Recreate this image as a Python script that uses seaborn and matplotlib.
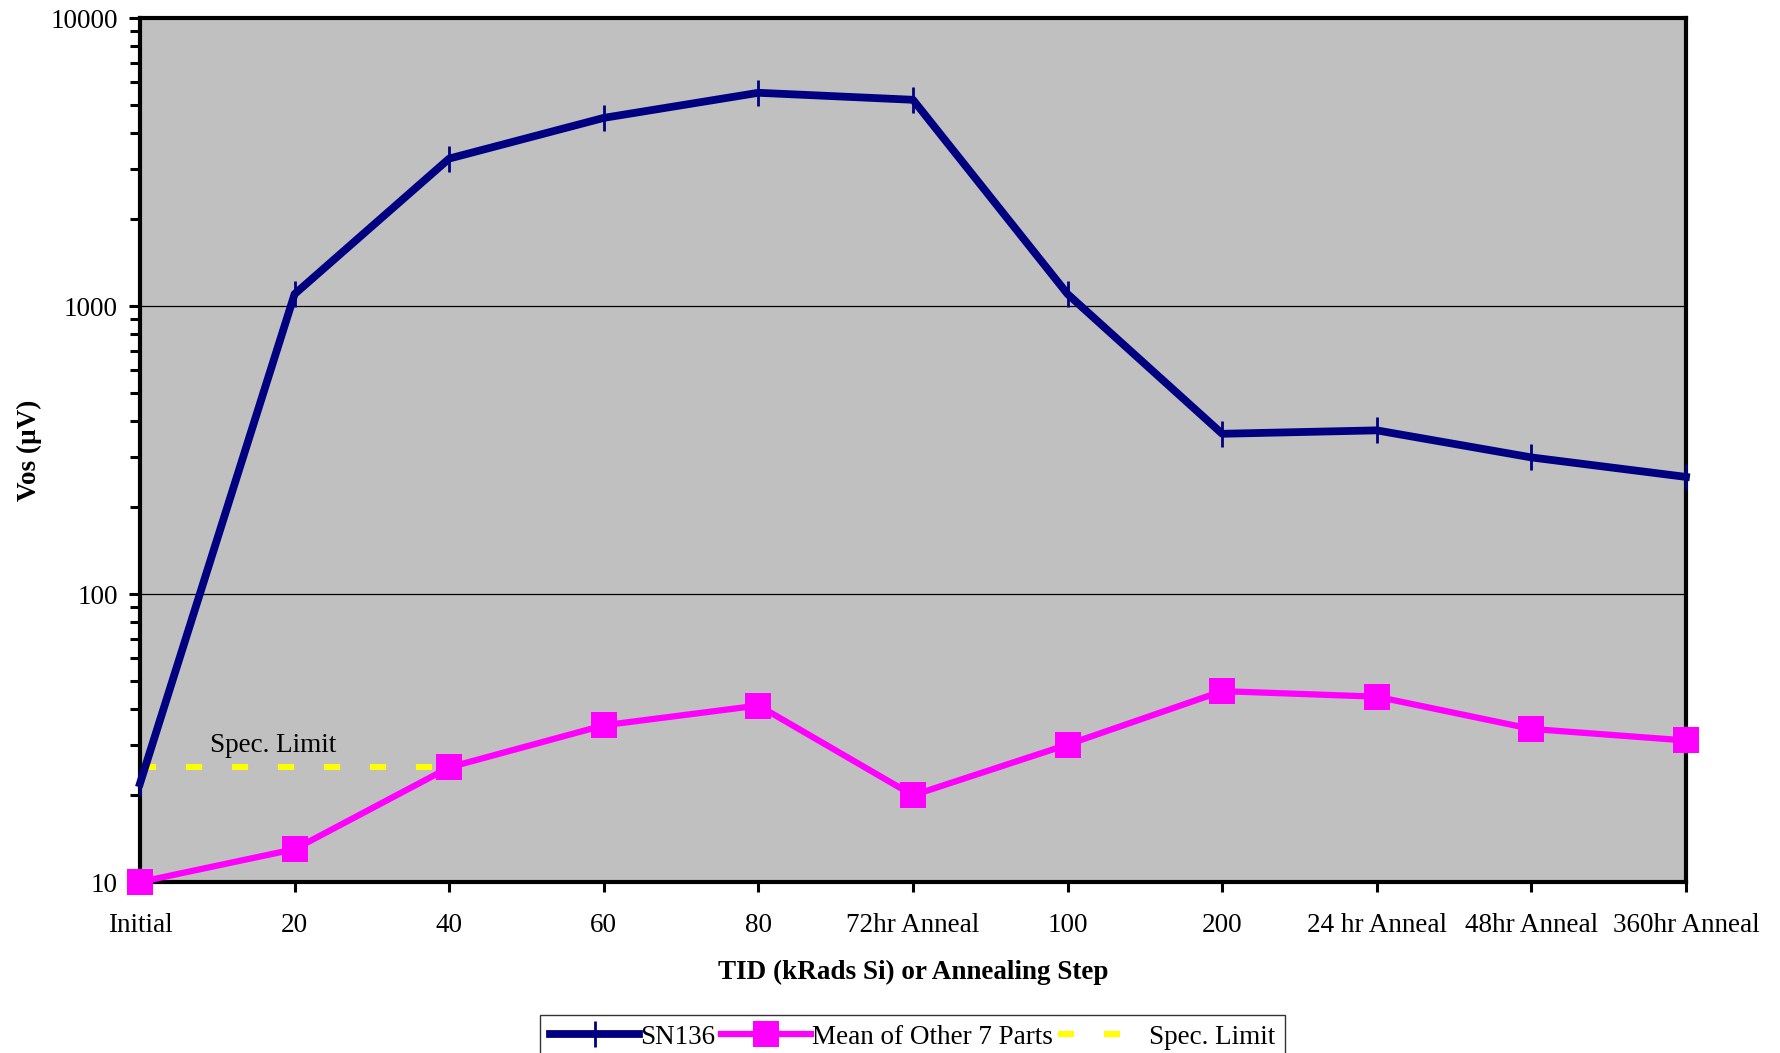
import matplotlib
matplotlib.use("Agg")
import matplotlib.pyplot as plt
import seaborn as sns
import pandas as pd
import numpy as np
from matplotlib.ticker import LogLocator, NullFormatter, FixedLocator

# Test steps (total ionizing dose or anneal step)
steps = ["Initial", "20", "40", "60", "80", "72hr Anneal", "100", "200",
         "24 hr Anneal", "48hr Anneal", "360hr Anneal"]
# Offset voltage in microvolts
sn136 = [22, 1100, 3250, 4500, 5500, 5200, 1100, 360, 370, 298, 255]
mean_other7 = [10, 13, 25, 35, 41, 20, 30, 46, 44, 34, 31]
spec_limit_steps = ["Initial", "20", "40"]
spec_limit = [25, 25, 25]

plt.rcParams["font.family"] = ["Liberation Serif", "DejaVu Serif"]

FS = 19.5

pos = {s: i for i, s in enumerate(steps)}
df = pd.DataFrame({"pos": list(range(len(steps))), "sn136": sn136, "mean": mean_other7})
spec_df = pd.DataFrame({"pos": [pos[s] for s in spec_limit_steps], "spec": spec_limit})

fig = plt.figure(figsize=(17.8, 10.53), dpi=100)
ax = fig.add_axes([140 / 1780, 1 - 882 / 1053, (1686 - 140) / 1780, (882 - 18) / 1053])
ax.set_facecolor("#C0C0C0")

sns.lineplot(data=spec_df, x="pos", y="spec", ax=ax, color="#FFFF00", linewidth=4.3,
             label="Spec. Limit", zorder=2)
spec_line = ax.lines[-1]
spec_line.set_dashes((2.7, 5.0))
spec_line.set_dash_capstyle("butt")

sns.lineplot(data=df, x="pos", y="sn136", ax=ax, color="#000080", linewidth=5.6,
             marker="|", markersize=19, markeredgewidth=2, markeredgecolor="#000080",
             label="SN136", zorder=4, clip_on=False)
sns.lineplot(data=df, x="pos", y="mean", ax=ax, color="#FF00FF", linewidth=4.5,
             marker="s", markersize=19, markeredgewidth=0, markerfacecolor="#FF00FF",
             label="Mean of Other 7 Parts", zorder=5, clip_on=False)

ax.set_yscale("log")
ax.set_ylim(10, 10000)
ax.set_xlim(0, len(steps) - 1)

ax.yaxis.set_major_locator(FixedLocator([10, 100, 1000, 10000]))
ax.set_yticklabels(["10", "100", "1000", "10000"])
ax.yaxis.set_minor_locator(LogLocator(base=10, subs=np.arange(2, 10)))
ax.yaxis.set_minor_formatter(NullFormatter())
ax.set_xticks(range(len(steps)))
ax.set_xticklabels(steps)

for y in [100, 1000]:
    ax.axhline(y, color="black", linewidth=0.9, zorder=1)

ax.tick_params(axis="y", which="major", direction="out", length=8, width=2.2,
               labelsize=FS, pad=8)
ax.tick_params(axis="y", which="minor", direction="out", length=7, width=2.2)
ax.tick_params(axis="x", which="major", direction="out", length=7, width=2.2,
               labelsize=FS, pad=15)
for sp in ax.spines.values():
    sp.set_linewidth(3)
    sp.set_color("black")

ax.set_xlabel("TID (kRads Si) or Annealing Step", fontsize=FS, fontweight="bold", labelpad=16)
ax.set_ylabel("Vos (µV)", fontsize=FS, fontweight="bold", labelpad=6)

ax.text(0.45, 29.9, "Spec. Limit", fontsize=FS, va="center", ha="left", zorder=6)

handles, labels = ax.get_legend_handles_labels()
order = [labels.index("SN136"), labels.index("Mean of Other 7 Parts"), labels.index("Spec. Limit")]
leg = fig.legend([handles[i] for i in order], [labels[i] for i in order],
                 loc="lower center", bbox_to_anchor=((538 + 1287) / 2 / 1780, -0.006),
                 ncol=3, fontsize=FS, frameon=True, fancybox=False, edgecolor="black",
                 handlelength=3.3, handletextpad=0.05, columnspacing=0.2,
                 borderpad=0.35, borderaxespad=0)
leg.get_frame().set_linewidth(1.0)
if ax.get_legend():
    ax.get_legend().remove()

fig.savefig("out.png", dpi=100, facecolor="white")
